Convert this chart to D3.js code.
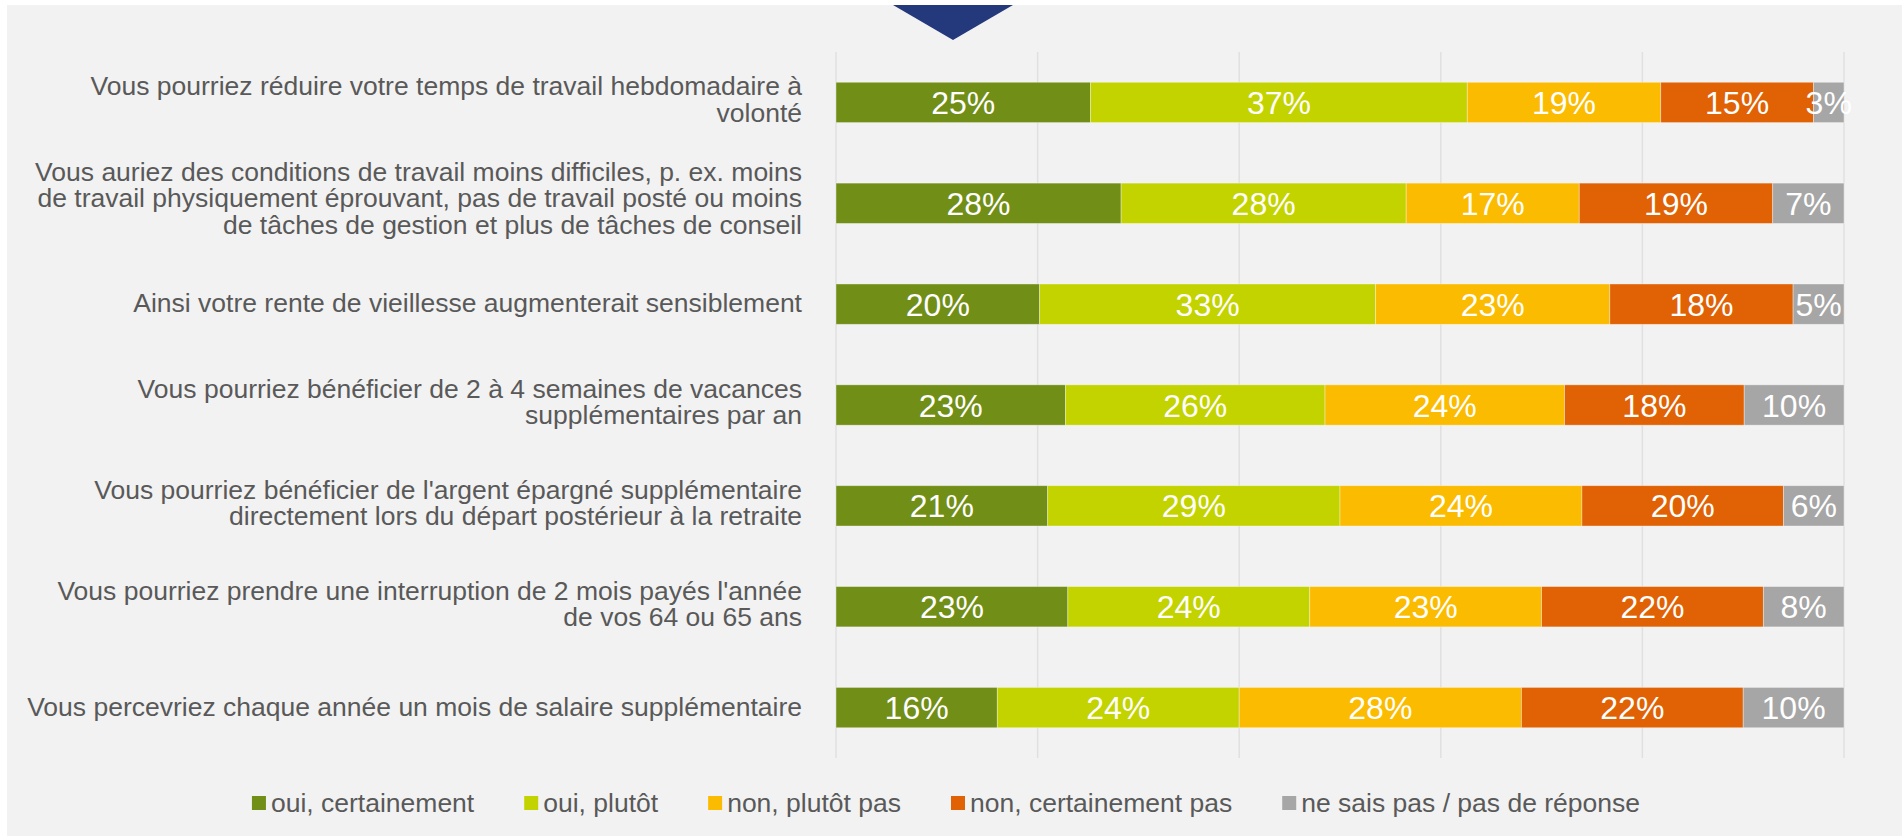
<!DOCTYPE html>
<html lang="fr">
<head>
<meta charset="utf-8">
<script src="https://cdn.jsdelivr.net/npm/d3@7"></script>
<style>
  html, body { margin: 0; padding: 0; background: #ffffff; }
  svg { display: block; font-family: "Liberation Sans", Arial, sans-serif; }
</style>
</head>
<body>
<svg id="chart" width="1902" height="836"></svg>
<script>
// Survey statements (one label line per entry)
const categories = [
  ["Vous pourriez réduire votre temps de travail hebdomadaire à", "volonté"],
  ["Vous auriez des conditions de travail moins difficiles, p. ex. moins",
   "de travail physiquement éprouvant, pas de travail posté ou moins",
   "de tâches de gestion et plus de tâches de conseil"],
  ["Ainsi votre rente de vieillesse augmenterait sensiblement"],
  ["Vous pourriez bénéficier de 2 à 4 semaines de vacances", "supplémentaires par an"],
  ["Vous pourriez bénéficier de l'argent épargné supplémentaire",
   "directement lors du départ postérieur à la retraite"],
  ["Vous pourriez prendre une interruption de 2 mois payés l'année", "de vos 64 ou 65 ans"],
  ["Vous percevriez chaque année un mois de salaire supplémentaire"]
];

const seriesNames = [
  "oui, certainement",
  "oui, plutôt",
  "non, plutôt pas",
  "non, certainement pas",
  "ne sais pas / pas de réponse"
];

// Shares per answer, in percent, one array per answer
const ouiCertainement  = [25, 28, 20, 23, 21, 23, 16];
const ouiPlutot        = [37, 28, 33, 26, 29, 24, 24];
const nonPlutotPas     = [19, 17, 23, 24, 24, 23, 28];
const nonCertainement  = [15, 19, 18, 18, 20, 22, 22];
const neSaisPas        = [ 3,  7,  5, 10,  6,  8, 10];

const gridTicks = [0, 0.2, 0.4, 0.6, 0.8, 1.0];

const colors = ["#718e17", "#c3d300", "#fbbb00", "#e06205", "#a6a6a6"];

// ---- table for the stack ----
const seriesValues = [ouiCertainement, ouiPlutot, nonPlutotPas, nonCertainement, neSaisPas];
const rows = categories.map((c, i) => {
  const r = { idx: i };
  seriesNames.forEach((s, j) => { r[s] = seriesValues[j][i]; });
  return r;
});

// each bar fills 100 %
const stacked = d3.stack()
  .keys(seriesNames)
  .offset(d3.stackOffsetExpand)(rows);

const svg = d3.select("#chart");

// background panel
svg.append("rect")
  .attr("x", 7).attr("y", 5)
  .attr("width", 1902 - 7).attr("height", 836 - 5)
  .attr("fill", "#f2f2f2");

// marker triangle at the top
svg.append("path")
  .attr("d", "M893,5 L1013,5 L953,40 Z")
  .attr("fill", "#24387c");

const x = d3.scaleLinear().domain([0, 1]).range([836, 1844]);
const y = d3.scaleBand()
  .domain(d3.range(categories.length))
  .range([52, 758])
  .paddingInner(0.6)
  .paddingOuter(0.3);

// vertical gridlines
svg.append("g")
  .selectAll("line")
  .data(gridTicks)
  .join("line")
  .attr("x1", d => x(d)).attr("x2", d => x(d))
  .attr("y1", 52).attr("y2", 758)
  .attr("stroke", "#e0e0e0")
  .attr("stroke-width", 1.5);

// stacked bars
const layers = svg.append("g")
  .selectAll("g")
  .data(stacked)
  .join("g")
  .attr("fill", (d, i) => colors[i]);

layers.selectAll("rect")
  .data(d => d)
  .join("rect")
  .attr("x", d => x(d[0]))
  .attr("y", d => y(d.data.idx))
  .attr("width", d => x(d[1]) - x(d[0]))
  .attr("height", y.bandwidth())
  .attr("stroke", "rgba(255,255,255,0.45)")
  .attr("stroke-width", 0.8);

// value labels inside the segments
const labels = svg.append("g");
stacked.forEach((layer, j) => {
  labels.selectAll(null)
    .data(layer)
    .join("text")
    .attr("x", d => (x(d[0]) + x(d[1])) / 2)
    .attr("y", d => y(d.data.idx) + y.bandwidth() / 2 + 11.5)
    .attr("text-anchor", "middle")
    .attr("fill", "#ffffff")
    .attr("font-size", 32)
    .text(d => d.data[seriesNames[j]] + "%");
});

// category labels, right-aligned against the plot
const lineH = 26.5;
const catG = svg.append("g");
categories.forEach((lines, i) => {
  const n = lines.length;
  const cy = y(i) + y.bandwidth() / 2;
  const first = cy - (n - 1) * lineH / 2 + 9.5 - 1.2 - 2.1 * (n - 1);
  const t = catG.append("text")
    .attr("text-anchor", "end")
    .attr("fill", "#595959")
    .attr("font-size", 26.5);
  lines.forEach((ln, k) => {
    t.append("tspan")
      .attr("x", 802)
      .attr("y", first + k * lineH)
      .text(ln);
  });
});

// legend
const legend = svg.append("g");
const items = seriesNames.map((name, i) => {
  const g = legend.append("g");
  g.append("rect")
    .attr("x", 0).attr("y", 796)
    .attr("width", 14).attr("height", 14)
    .attr("fill", colors[i]);
  const t = g.append("text")
    .attr("x", 19).attr("y", 812)
    .attr("fill", "#595959")
    .attr("font-size", 26.5)
    .text(name);
  return { g, w: 19 + t.node().getComputedTextLength() };
});
const gap = 50;
const total = d3.sum(items, d => d.w) + gap * (items.length - 1);
let cx = 946 - total / 2;
items.forEach(it => {
  it.g.attr("transform", `translate(${cx},0)`);
  cx += it.w + gap;
});
</script>
</body>
</html>
